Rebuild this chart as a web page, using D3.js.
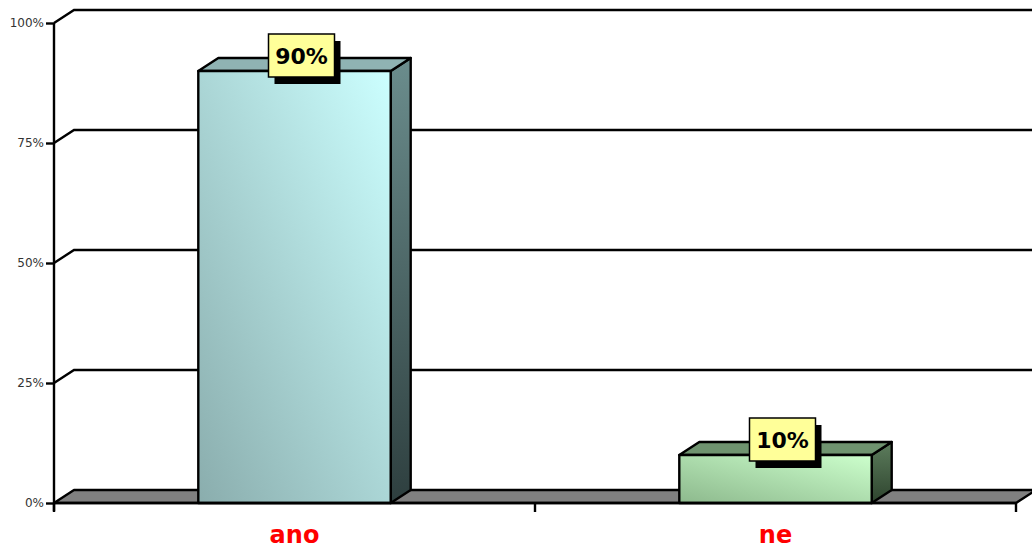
<!DOCTYPE html>
<html>
<head>
<meta charset="utf-8">
<script src="https://d3js.org/d3.v7.min.js"></script>
<style>
  body { margin: 0; background: #fff; }
  svg { display: block; }
  .tick text { font-family: 'DejaVu Sans', Verdana, sans-serif; font-size: 12px; fill: #333; }
  .cat { font-family: 'DejaVu Sans', Verdana, sans-serif; font-weight: bold; font-size: 24px; fill: #ff0000; text-anchor: middle; }
  .lbl { font-family: 'DejaVu Sans', Verdana, sans-serif; font-weight: bold; font-size: 22px; fill: #000; text-anchor: middle; }
</style>
</head>
<body>
<script>
  // data
  var categories = ['ano', 'ne'];
  var values = [0.90, 0.10];
  var labels = ['90%', '10%'];
  var tickValues = [0, 0.25, 0.5, 0.75, 1];

  // colours per bar: front gradient (dark, light), side (top, bottom), top face
  var frontDark = ['#8aadad', '#8db98d'];
  var frontLight = ['#ccffff', '#ccffcc'];
  var sideTop = ['#6b8d8d', '#5d7d5d'];
  var sideBot = ['#2e3f3f', '#2e442e'];
  var topFill = ['#8fb3b3', '#6f936f'];

  var width = 1032, height = 550;
  var dx = 20, dy = -13;      // depth offset of the 3d box
  var sw = 2.4;

  var svg = d3.select('body').append('svg')
    .attr('width', width)
    .attr('height', height);

  var x = d3.scaleBand()
    .domain(categories)
    .range([54, 1016])
    .padding(0);

  var y = d3.scaleLinear()
    .domain([0, 1])
    .range([503, 23]);

  var defs = svg.append('defs');
  categories.forEach(function(c, i) {
    var g = defs.append('linearGradient').attr('id', 'front' + i)
      .attr('x1', '0%').attr('y1', '100%').attr('x2', '100%').attr('y2', '0%');
    g.append('stop').attr('offset', '0%').attr('stop-color', frontDark[i]);
    g.append('stop').attr('offset', '100%').attr('stop-color', frontLight[i]);
    var s = defs.append('linearGradient').attr('id', 'side' + i)
      .attr('x1', '0%').attr('y1', '0%').attr('x2', '0%').attr('y2', '100%');
    s.append('stop').attr('offset', '0%').attr('stop-color', sideTop[i]);
    s.append('stop').attr('offset', '100%').attr('stop-color', sideBot[i]);
  });

  var x0 = x.range()[0], x1 = x.range()[1];

  // gridlines: diagonal on left wall + horizontal on back wall
  var grid = svg.append('g');
  tickValues.filter(function(d) { return d > 0; }).forEach(function(t) {
    grid.append('path')
      .attr('d', 'M' + x0 + ',' + y(t) + 'L' + (x0 + dx) + ',' + (y(t) + dy) + 'L' + (width + 5) + ',' + (y(t) + dy))
      .attr('fill', 'none').attr('stroke', '#000').attr('stroke-width', sw);
  });

  // floor
  svg.append('path')
    .attr('d', 'M' + x0 + ',' + y(0) + 'L' + (x0 + dx) + ',' + (y(0) + dy) + 'L' + (x1 + dx) + ',' + (y(0) + dy) + 'L' + x1 + ',' + y(0) + 'Z')
    .attr('fill', '#808080').attr('stroke', '#000').attr('stroke-width', sw).attr('stroke-linejoin', 'round');

  // bars
  var bw = x.bandwidth() * 0.4;
  categories.forEach(function(c, i) {
    var bx = x(c) + (x.bandwidth() - bw) / 2;
    var top = y(values[i]), base = y(0);
    var g = svg.append('g').attr('stroke', '#000').attr('stroke-width', sw).attr('stroke-linejoin', 'round');
    g.append('path')
      .attr('d', 'M' + (bx + bw) + ',' + base + 'L' + (bx + bw + dx) + ',' + (base + dy) + 'L' + (bx + bw + dx) + ',' + (top + dy) + 'L' + (bx + bw) + ',' + top + 'Z')
      .attr('fill', 'url(#side' + i + ')');
    g.append('path')
      .attr('d', 'M' + bx + ',' + top + 'L' + (bx + dx) + ',' + (top + dy) + 'L' + (bx + bw + dx) + ',' + (top + dy) + 'L' + (bx + bw) + ',' + top + 'Z')
      .attr('fill', topFill[i]);
    g.append('rect')
      .attr('x', bx).attr('y', top).attr('width', bw).attr('height', base - top)
      .attr('fill', 'url(#front' + i + ')');
  });

  // y axis
  var yAxis = svg.append('g')
    .attr('transform', 'translate(' + x0 + ',0)')
    .call(d3.axisLeft(y).tickValues(tickValues).tickFormat(d3.format('.0%')).tickSize(8).tickPadding(2));
  yAxis.select('.domain').remove();
  yAxis.selectAll('line').attr('stroke', '#000').attr('stroke-width', sw);
  yAxis.append('line').attr('x1', 0).attr('x2', 0).attr('y1', y(1)).attr('y2', y(0) + 8)
    .attr('stroke', '#000').attr('stroke-width', sw);

  // x axis
  svg.append('line').attr('x1', x0).attr('x2', x1).attr('y1', y(0)).attr('y2', y(0))
    .attr('stroke', '#000').attr('stroke-width', sw);
  var xTicks = categories.map(function(c) { return x(c); }).concat([x1]);
  svg.selectAll('.xt').data(xTicks).enter().append('line')
    .attr('x1', function(d) { return d; }).attr('x2', function(d) { return d; })
    .attr('y1', y(0)).attr('y2', y(0) + 9)
    .attr('stroke', '#000').attr('stroke-width', sw);
  svg.selectAll('.cat').data(categories).enter().append('text')
    .attr('class', 'cat')
    .attr('x', function(d) { return x(d) + x.bandwidth() / 2; })
    .attr('y', 543)
    .text(function(d) { return d; });

  // data labels
  categories.forEach(function(c, i) {
    var cx = x(c) + x.bandwidth() / 2 + 7;
    var cy = y(values[i]) + dy / 2 - 9;
    var bwL = 66, bhL = 43;
    var g = svg.append('g');
    g.append('rect').attr('x', cx - bwL / 2 + 6).attr('y', cy - bhL / 2 + 7).attr('width', bwL).attr('height', bhL).attr('fill', '#000');
    g.append('rect').attr('x', cx - bwL / 2).attr('y', cy - bhL / 2).attr('width', bwL).attr('height', bhL)
      .attr('fill', '#ffff99').attr('stroke', '#000').attr('stroke-width', 1.5);
    g.append('text').attr('class', 'lbl').attr('x', cx).attr('y', cy + 8).text(labels[i]);
  });
</script>
</body>
</html>
